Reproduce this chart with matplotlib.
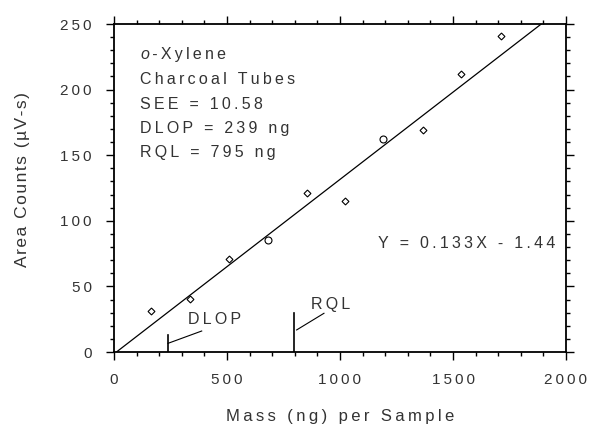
import matplotlib
matplotlib.use("Agg")
import matplotlib.pyplot as plt
import numpy as np
from matplotlib.ticker import MultipleLocator

plt.rcParams['font.family'] = ['Liberation Sans', 'DejaVu Sans']

# Data
mass = [162, 336, 510, 683, 855, 1022, 1192, 1366, 1535, 1711]
area = [31.3, 40.4, 70.9, 85.4, 121.4, 115.3, 162, 169, 212, 241]
circle_pts = [False, False, False, True, False, False, True, False, False, False]
slope = 0.133
intercept = -1.44
dlop = 239
rql = 795
info_lines = ["o-Xylene", "Charcoal Tubes", "SEE = 10.58", "DLOP = 239 ng", "RQL = 795 ng"]
equation = "Y = 0.133X - 1.44"
x_ticks = [0, 500, 1000, 1500, 2000]
y_ticks = [0, 50, 100, 150, 200, 250]


def sp(s, ch="\u2009"):
    return ch.join(list(s))


fig = plt.figure(figsize=(5.92, 4.34), dpi=100)
ax = fig.add_axes([114/592, 1-352/434, 452/592, 328/434])
ax.set_xlim(0, 2000)
ax.set_ylim(0, 250)

fs = 11.5
tc = '#333333'

# regression line
xl = np.array([0, 2000])
ax.plot(xl, slope*xl + intercept, color='black', lw=0.9)

for xm, ym, c in zip(mass, area, circle_pts):
    ax.plot(xm, ym, marker='o' if c else 'D', ms=5 if c else 3.5, mfc='white',
            mec='black', mew=0.8, ls='none', zorder=3)

# DLOP and RQL markers
ax.plot([dlop, dlop], [0, 13], color='black', lw=1.2)
ax.plot([dlop, 388], [6.6, 16], color='black', lw=0.8)
ax.text(327, 25, sp("DLOP"), fontsize=fs, color=tc, ha='left', va='center')
ax.plot([rql, rql], [0, 30], color='black', lw=1.2)
ax.plot([808, 929], [16.8, 29.5], color='black', lw=0.8)
ax.text(870, 36, sp("RQL"), fontsize=fs, color=tc, ha='left', va='center')

# info text
ys = [226.4, 207.7, 189, 170.7, 152.4]
for s, yv in zip(info_lines, ys):
    if s.startswith("o-"):
        t = ax.text(115, yv, "o", fontsize=fs, color=tc, ha='left', va='center', style='italic')
        ax.annotate("\u2009" + sp(s[1:]), xycoords=t, xy=(1, 0.5), va='center', ha='left',
                    fontsize=fs, color=tc)
    else:
        ax.text(115, yv, sp(s), fontsize=fs, color=tc, ha='left', va='center')

ax.text(1955, 82.8, sp(equation), fontsize=fs, color=tc, ha='right', va='center')

# ticks
ax.set_xticks(x_ticks)
ax.set_xticklabels([sp(str(v)) for v in x_ticks])
ax.set_yticks(y_ticks)
ax.set_yticklabels([sp(str(v)) for v in y_ticks])
ax.xaxis.set_minor_locator(MultipleLocator(100))
ax.yaxis.set_minor_locator(MultipleLocator(10))
ax.tick_params(which='both', top=True, right=True, direction='out', color='black')
ax.tick_params(which='major', length=6, width=1, labelsize=11, labelcolor=tc)
ax.tick_params(axis='x', which='major', pad=9)
ax.tick_params(axis='y', which='major', pad=10)
ax.tick_params(which='minor', length=3, width=1)
ax.tick_params(labeltop=False, labelright=False)
for s in ax.spines.values():
    s.set_linewidth(1.3)

ax.set_xlabel(sp("Mass (ng) per Sample"), fontsize=12, color=tc, labelpad=16)
ax.set_ylabel(sp("Area Counts (µV-s)", "\u200a"), fontsize=12.5, color=tc)
ax.yaxis.set_label_coords((30 - 114) / 452, (352 - 180) / 328)

fig.savefig("out.png", dpi=100)
